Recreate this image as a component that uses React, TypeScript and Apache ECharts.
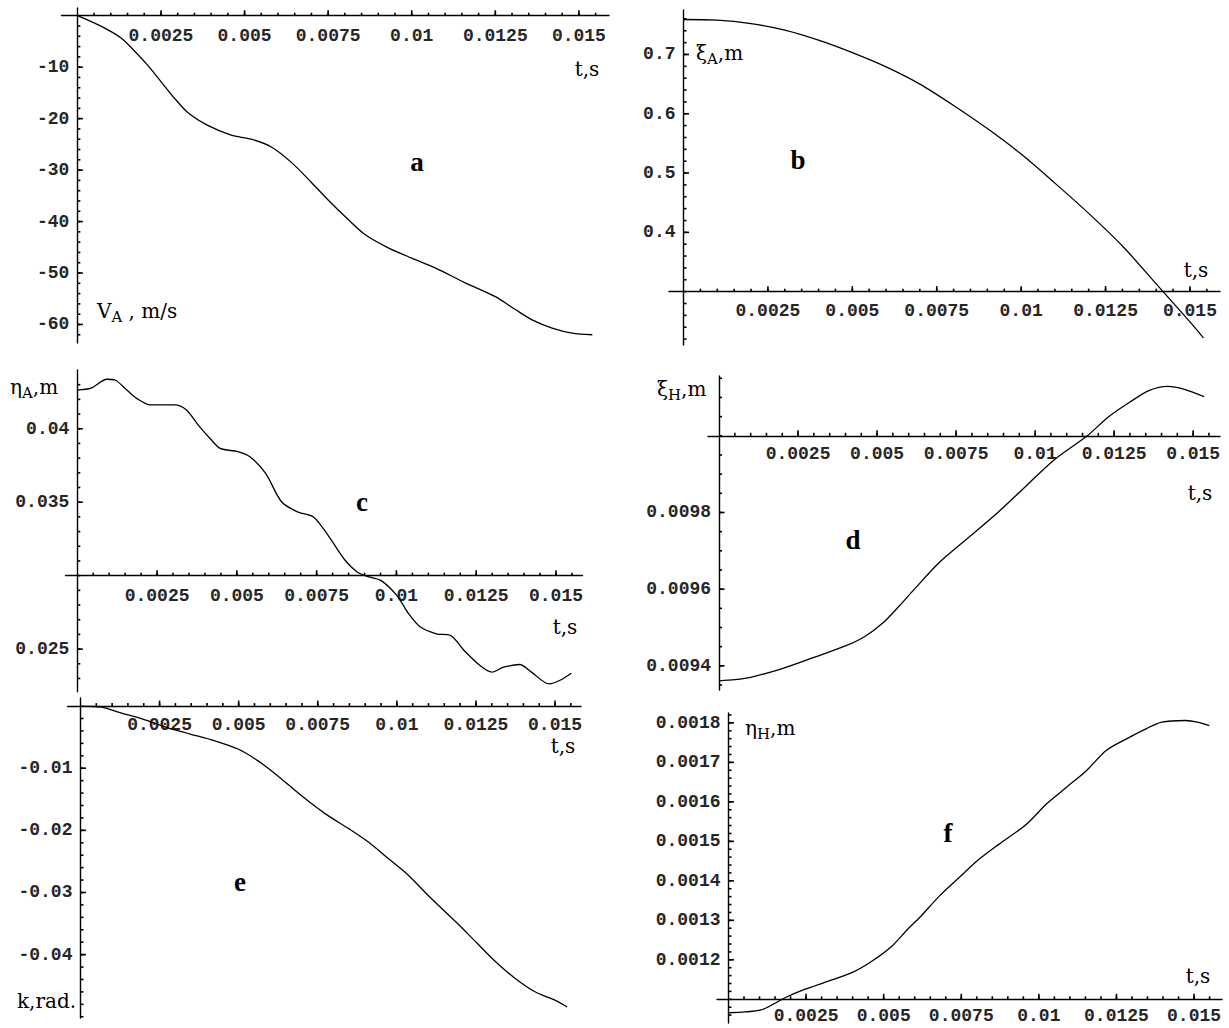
import { useEffect, useRef } from 'react';
import * as echarts from 'echarts';

// Time axis, shared by all six plots
const T_MAJOR = [0.0025, 0.005, 0.0075, 0.01, 0.0125, 0.015];
const T_LABELS = ['0.0025', '0.005', '0.0075', '0.01', '0.0125', '0.015'];
const T_MINOR_STEP = 0.0005;
const T_MINOR_LAST = 0.0155;

// (a) velocity of point A, m/s
const VA_T = [0, 0.0005, 0.0009, 0.0013, 0.0017, 0.0021, 0.0025, 0.0029, 0.0033, 0.0039, 0.0046, 0.0052, 0.0058, 0.0064, 0.007, 0.0075, 0.0081, 0.0086, 0.0093, 0.01, 0.0107, 0.0116, 0.0125, 0.0131, 0.0136, 0.0142, 0.0148, 0.0154];
const VA = [0, -1.4, -2.7, -4.3, -6.8, -9.6, -12.8, -16, -18.8, -21.3, -23.2, -24, -25.5, -28.5, -32.4, -35.8, -39.6, -42.5, -45.1, -47.1, -49, -51.9, -54.6, -57.1, -59.1, -60.7, -61.7, -62];
const VA_TICKS = [-60, -50, -40, -30, -20, -10];
const VA_LABELS = ['-60', '-50', '-40', '-30', '-20', '-10'];

// (b) horizontal displacement of A, m
const XIA_T = [0, 0.001, 0.002, 0.003, 0.004, 0.005, 0.006, 0.007, 0.008, 0.009, 0.01, 0.011, 0.012, 0.013, 0.014, 0.015, 0.0154];
const XIA = [0.759, 0.758, 0.752, 0.741, 0.724, 0.703, 0.679, 0.65, 0.614, 0.575, 0.532, 0.483, 0.432, 0.377, 0.313, 0.249, 0.222];
const XIA_TICKS = [0.4, 0.5, 0.6, 0.7];
const XIA_LABELS = ['0.4', '0.5', '0.6', '0.7'];

// (c) vertical displacement of A, m
const ETA_A_T = [0, 0.00043, 0.00093, 0.00118, 0.00155, 0.00186, 0.0023, 0.00267, 0.00305, 0.00342, 0.00379, 0.00416, 0.00448, 0.00503, 0.00541, 0.0059, 0.0064, 0.0069, 0.0074, 0.00789, 0.00839, 0.00877, 0.00914, 0.00951, 0.01001, 0.01038, 0.01075, 0.01125, 0.01169, 0.01212, 0.01262, 0.01299, 0.01336, 0.01386, 0.01423, 0.01479, 0.01511, 0.01548];
const ETA_A = [0.04264, 0.04276, 0.04337, 0.04332, 0.04264, 0.04207, 0.04162, 0.04162, 0.04162, 0.04128, 0.04025, 0.03934, 0.03866, 0.03844, 0.03809, 0.03696, 0.03503, 0.03434, 0.034, 0.03264, 0.03105, 0.03025, 0.02991, 0.02968, 0.02866, 0.02741, 0.0265, 0.02604, 0.02593, 0.02491, 0.02388, 0.02343, 0.02377, 0.02395, 0.02343, 0.02263, 0.02286, 0.02336];
const ETA_A_TICKS = [0.025, 0.035, 0.04];
const ETA_A_LABELS = ['0.025', '0.035', '0.04'];

// (d) horizontal displacement of H, m
const XIH_T = [0, 0.0005, 0.001, 0.002, 0.003, 0.004, 0.0046, 0.0052, 0.0057, 0.00618, 0.007, 0.008, 0.00882, 0.0097, 0.0106, 0.01165, 0.0123, 0.013, 0.0136, 0.0142, 0.0147, 0.01535];
const XIH = [0.009361, 0.009364, 0.00937, 0.009393, 0.009422, 0.009452, 0.009476, 0.009513, 0.009556, 0.0096, 0.009672, 0.009742, 0.0098, 0.009868, 0.009937, 0.01, 0.010048, 0.010088, 0.010118, 0.010129, 0.010122, 0.010102];
const XIH_TICKS = [0.0094, 0.0096, 0.0098];
const XIH_LABELS = ['0.0094', '0.0096', '0.0098'];

// (e) rotation angle, rad
const K_T = [0, 0.0003, 0.00071, 0.00122, 0.00197, 0.00272, 0.00347, 0.00423, 0.00498, 0.0056, 0.00623, 0.00698, 0.00774, 0.00849, 0.00911, 0.00974, 0.01037, 0.01099, 0.01187, 0.0125, 0.01313, 0.01375, 0.01438, 0.01501, 0.01538];
const K = [0, -0.00005, -0.0002, -0.00102, -0.00209, -0.00343, -0.0045, -0.00557, -0.00691, -0.00878, -0.0112, -0.01441, -0.01735, -0.01976, -0.02191, -0.02458, -0.02726, -0.03048, -0.03476, -0.03798, -0.04119, -0.04387, -0.04601, -0.04735, -0.04842];
const K_TICKS = [-0.04, -0.03, -0.02, -0.01];
const K_LABELS = ['-0.04', '-0.03', '-0.02', '-0.01'];

// (f) vertical displacement of H, m
const ETA_H_T = [0, 0.00054, 0.00105, 0.00143, 0.00182, 0.00245, 0.00322, 0.00399, 0.00463, 0.00527, 0.00578, 0.00616, 0.0068, 0.00744, 0.00808, 0.00872, 0.00961, 0.01025, 0.01089, 0.01153, 0.01217, 0.01281, 0.01345, 0.01396, 0.01473, 0.01511, 0.01549];
const ETA_H = [0.001066, 0.001068, 0.001073, 0.001087, 0.001104, 0.001125, 0.001146, 0.001168, 0.001197, 0.001235, 0.001278, 0.001307, 0.001362, 0.001409, 0.001455, 0.001493, 0.001544, 0.001595, 0.001637, 0.001679, 0.00173, 0.001759, 0.001785, 0.001802, 0.001806, 0.001802, 0.001793];
const ETA_H_TICKS = [0.0012, 0.0013, 0.0014, 0.0015, 0.0016, 0.0017, 0.0018];
const ETA_H_LABELS = ['0.0012', '0.0013', '0.0014', '0.0015', '0.0016', '0.0017', '0.0018'];

const MONO = '"Liberation Mono", "Courier New", monospace';
const CAPTION = '"DejaVu Serif", "Liberation Serif", serif';
const SERIF = '"Liberation Serif", "Times New Roman", serif';
const INK = '#000';

// evenly spaced minor tick positions between two values
function steps(from: number, to: number, step: number): number[] {
  const n = Math.round((to - from) / step);
  const out: number[] = [];
  for (let i = 0; i <= n; i++) out.push(+(from + i * step).toPrecision(10));
  return out;
}

function labelFor(values: number[], labels: string[]) {
  return (v: number) => {
    const i = values.findIndex((x) => Math.abs(x - v) < 1e-12);
    return i >= 0 ? labels[i] : '';
  };
}

// one entry per plot: data, crossing level of the time axis, ranges and frame
const PANELS = [
  { t: VA_T, v: VA, ticks: VA_TICKS, labels: VA_LABELS, minor: [-62, -2, 2], cross: 0,
    xr: [-0.000475, 0.0159], yr: [-63.6, 1.5], box: { left: 61.5, top: 8, width: 547.5, height: 335 }, gap: 11 },
  { t: XIA_T, v: XIA, ticks: XIA_TICKS, labels: XIA_LABELS, minor: [0.22, 0.76, 0.02], cross: 0.3,
    xr: [-0.00043, 0.01589], yr: [0.21, 0.775], box: { left: 669, top: 10, width: 551, height: 335 }, gap: 10 },
  { t: ETA_A_T, v: ETA_A, ticks: ETA_A_TICKS, labels: ETA_A_LABELS, minor: [0.023, 0.043, 0.001], cross: 0.03,
    xr: [-0.00037, 0.01583], yr: [0.0221, 0.044], box: { left: 65.5, top: 370, width: 517, height: 321.7 }, gap: 11 },
  { t: XIH_T, v: XIH, ticks: XIH_TICKS, labels: XIH_LABELS, minor: [0.00935, 0.01015, 0.00005], cross: 0.01,
    xr: [-0.00035, 0.01585], yr: [0.009337, 0.010156], box: { left: 708, top: 376, width: 512, height: 314 }, gap: 9 },
  { t: K_T, v: K, ticks: K_TICKS, labels: K_LABELS, minor: [-0.05, -0.002, 0.002], cross: 0,
    xr: [-0.00041, 0.01582], yr: [-0.0502, 0.0013], box: { left: 67.5, top: 698, width: 513.5, height: 320 }, gap: 9.5 },
  { t: ETA_H_T, v: ETA_H, ticks: ETA_H_TICKS, labels: ETA_H_LABELS, minor: [0.00106, 0.00182, 0.00002], cross: 0.0011,
    xr: [-0.00037, 0.0159], yr: [0.00104, 0.001825], box: { left: 717, top: 713, width: 505, height: 310 }, gap: 7.5 },
];

// panel letters and axis captions
const LETTERS = [
  { text: 'a', x: 417, y: 162 }, { text: 'b', x: 798, y: 160 }, { text: 'c', x: 362, y: 502 },
  { text: 'd', x: 853, y: 540 }, { text: 'e', x: 240, y: 882 }, { text: 'f', x: 948, y: 833 },
];
const TIME_CAPTIONS = [
  { x: 587, y: 69 }, { x: 1196, y: 270 }, { x: 565, y: 627 },
  { x: 1200, y: 493 }, { x: 563, y: 746 }, { x: 1198, y: 976 },
];
const VALUE_CAPTIONS = [
  { text: '{m|V}{s|A}{m| , m/s}', x: 97, y: 311 },
  { text: '{m|ξ}{s|A}{m|,m}', x: 696, y: 53 },
  { text: '{m|η}{s|A}{m|,m}', x: 10, y: 387 },
  { text: '{m|ξ}{s|H}{m|,m}', x: 657, y: 389 },
  { text: '{m|k,rad.}', x: 17, y: 1001 },
  { text: '{m|η}{s|H}{m|,m}', x: 745, y: 728 },
];

// tick mark sizes, px
const TICK_W = 1.6;
const TICK_MINOR = 3;
const TICK_MAJOR = 5.5;

export default function App() {
  const ref = useRef<HTMLDivElement>(null);

  useEffect(() => {
    if (!ref.current) return;
    const chart = echarts.init(ref.current, null, { renderer: 'svg' });

    const tMinor = steps(T_MINOR_STEP, T_MINOR_LAST, T_MINOR_STEP);
    const grid: any[] = [];
    const xAxis: any[] = [];
    const yAxis: any[] = [];
    const lines: any[] = [];
    const tickText = { fontFamily: MONO, fontSize: 18, fontWeight: 'bold', color: '#262626' };

    PANELS.forEach((p, i) => {
      grid.push({ ...p.box, containLabel: false, outerBoundsMode: 'none' });
      xAxis.push({
        type: 'value', gridIndex: i, min: p.xr[0], max: p.xr[1], position: 'bottom',
        splitLine: { show: false },
        axisLine: { show: true, onZero: false, lineStyle: { color: INK, width: 1.4 } },
        axisTick: { show: false },
        axisLabel: { show: true, customValues: T_MAJOR, formatter: labelFor(T_MAJOR, T_LABELS), margin: p.gap, ...tickText },
      });
      yAxis.push({
        type: 'value', gridIndex: i, min: p.yr[0], max: p.yr[1], position: 'left',
        splitLine: { show: false },
        axisLine: { show: true, onZero: false, lineStyle: { color: INK, width: 1.4 } },
        axisTick: { show: false },
        axisLabel: { show: true, customValues: p.ticks, formatter: labelFor(p.ticks, p.labels), margin: 8, ...tickText },
      });
      lines.push({
        type: 'line',
        xAxisIndex: i,
        yAxisIndex: i,
        data: p.t.map((t, k) => [t, p.v[k]]),
        showSymbol: false,
        smooth: 0.3,
        silent: true,
        lineStyle: { color: INK, width: 1.3 },
      });
    });

    const texts: any[] = [];
    LETTERS.forEach((l) => {
      texts.push({
        type: 'text', x: l.x, y: l.y, silent: true,
        style: { text: l.text, fontFamily: SERIF, fontSize: 27, fontWeight: 'bold', fill: INK, align: 'center', verticalAlign: 'middle', textAlign: 'center', textVerticalAlign: 'middle' },
      });
    });
    TIME_CAPTIONS.forEach((c) => {
      texts.push({
        type: 'text', x: c.x, y: c.y, silent: true,
        style: { text: 't,s', fontFamily: CAPTION, fontSize: 20, fill: INK, align: 'center', verticalAlign: 'middle', textAlign: 'center', textVerticalAlign: 'middle' },
      });
    });
    VALUE_CAPTIONS.forEach((c) => {
      texts.push({
        type: 'text', x: c.x, y: c.y, silent: true,
        style: {
          text: c.text, fill: INK, align: 'left', verticalAlign: 'middle', textAlign: 'left', textVerticalAlign: 'middle',
          rich: {
            m: { fontFamily: CAPTION, fontSize: 20, fill: INK, color: INK },
            s: { fontFamily: CAPTION, fontSize: 15, fill: INK, color: INK, padding: [12, 0, 0, 0] },
          },
        },
      });
    });

    chart.setOption({
      animation: false,
      backgroundColor: '#fff',
      grid,
      xAxis,
      yAxis,
      series: lines,
      graphic: texts,
    });

    // move each time axis to its crossing level and each value axis to t = 0,
    // and put short tick marks on both axes through each plot's scales
    const xShift: any[] = [];
    const yShift: any[] = [];
    const tickMarks: any[] = [];
    const bar = (x: number, y: number, w: number, h: number) => ({
      type: 'rect', silent: true, z: 10,
      shape: { x, y, width: w, height: h },
      style: { fill: INK, stroke: null },
    });
    PANELS.forEach((p, i) => {
      const toPx = (pt: number[]) => chart.convertToPixel({ seriesIndex: i }, pt) as number[];
      const origin = toPx([0, p.cross]);
      xShift.push({ offset: origin[1] - (p.box.top + p.box.height) });
      yShift.push({ offset: p.box.left - origin[0] });

      tMinor.forEach((t) => {
        const q = toPx([t, p.cross]);
        tickMarks.push(bar(q[0] - TICK_W / 2, origin[1] - TICK_MINOR, TICK_W, TICK_MINOR));
      });
      T_MAJOR.forEach((t) => {
        const q = toPx([t, p.cross]);
        tickMarks.push(bar(q[0] - TICK_W / 2, origin[1] - TICK_MAJOR, TICK_W, TICK_MAJOR));
      });
      steps(p.minor[0], p.minor[1], p.minor[2]).forEach((v) => {
        const q = toPx([0, v]);
        tickMarks.push(bar(origin[0], q[1] - TICK_W / 2, TICK_MINOR, TICK_W));
      });
      p.ticks.forEach((v) => {
        const q = toPx([0, v]);
        tickMarks.push(bar(origin[0], q[1] - TICK_W / 2, TICK_MAJOR, TICK_W));
      });
    });
    chart.setOption({ xAxis: xShift, yAxis: yShift, graphic: [...texts, ...tickMarks] });

    return () => chart.dispose();
  }, []);

  return (
    <div
      ref={ref}
      style={{ position: 'absolute', left: 0, top: 0, width: 1229, height: 1028, background: '#fff' }}
    />
  );
}
